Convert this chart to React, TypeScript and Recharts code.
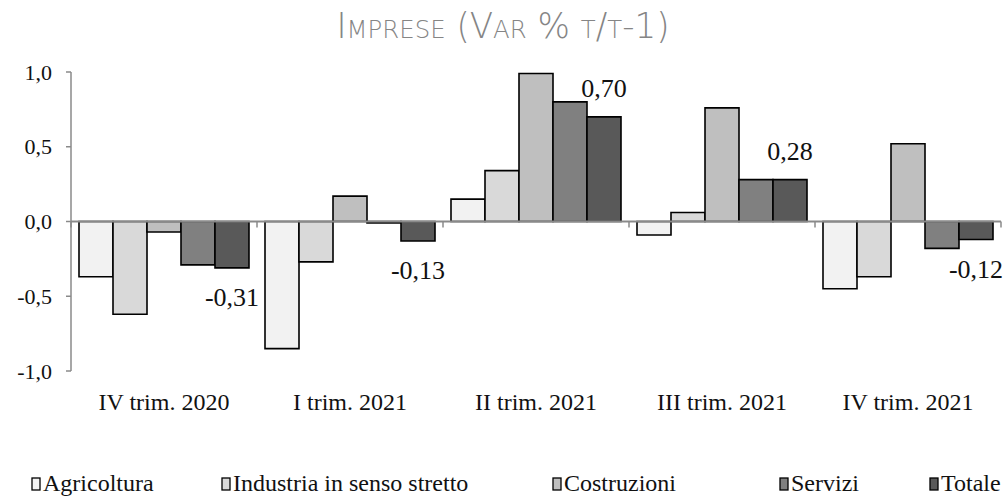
import React from "react";
import {
  BarChart,
  Bar,
  XAxis,
  YAxis,
  ReferenceLine,
  LabelList,
} from "recharts";

const categories = [
  "IV trim. 2020",
  "I trim. 2021",
  "II trim. 2021",
  "III trim. 2021",
  "IV trim. 2021",
];
const agricoltura = [-0.37, -0.85, 0.15, -0.09, -0.45];
const industria = [-0.62, -0.27, 0.34, 0.06, -0.37];
const costruzioni = [-0.07, 0.17, 0.99, 0.76, 0.52];
const servizi = [-0.29, -0.01, 0.8, 0.28, -0.18];
const totale = [-0.31, -0.13, 0.7, 0.28, -0.12];
const yTicks = [-1, -0.5, 0, 0.5, 1];

const series = [
  { key: "agricoltura", name: "Agricoltura", color: "#f2f2f2" },
  { key: "industria", name: "Industria in senso stretto", color: "#d9d9d9" },
  { key: "costruzioni", name: "Costruzioni", color: "#bfbfbf" },
  { key: "servizi", name: "Servizi", color: "#808080" },
  { key: "totale", name: "Totale", color: "#595959" },
];

const data = categories.map((cat, i) => ({
  cat,
  agricoltura: agricoltura[i],
  industria: industria[i],
  costruzioni: costruzioni[i],
  servizi: servizi[i],
  totale: totale[i],
}));

const W = 1004;
const H = 496;
const top = 72;
const left = 71;
const right = 3;
const plotBottom = 371;
const axisGray = "#8a8a8a";
const serif = "'Liberation Serif', 'Times New Roman', serif";
const fmt = (v: number, d: number) => v.toFixed(d).replace(".", ",");

const band = (W - left - right) / categories.length;
const zeroY = top + (plotBottom - top) * (1 / 2);

const CatTick = (props: any) => {
  const { x, y, payload, index } = props;
  const last = index === categories.length - 1;
  return (
    <g>
      <line x1={x - band / 2} x2={x - band / 2} y1={zeroY} y2={zeroY + 6} stroke={axisGray} strokeWidth={1.5} />
      {last && (
        <line x1={x + band / 2} x2={x + band / 2} y1={zeroY} y2={zeroY + 6} stroke={axisGray} strokeWidth={1.5} />
      )}
      <text x={x} y={y + 39} textAnchor="middle" fontFamily={serif} fontSize={24} fill="#111">
        {payload.value}
      </text>
    </g>
  );
};

const ValTick = (props: any) => {
  const { x, y, payload } = props;
  return (
    <text x={x} y={y} dy="0.35em" textAnchor="end" fontFamily={serif} fontSize={22} fill="#111">
      {fmt(payload.value, 1)}
    </text>
  );
};

const TotLabel = (props: any) => {
  const { x, y, width, height, value } = props;
  const a = y;
  const b = y + height;
  const cx = x + width / 2;
  const ty = value >= 0 ? Math.min(a, b) - 29 : Math.max(a, b) + 29;
  return (
    <text x={cx} y={ty} dy="0.35em" textAnchor="middle" fontFamily={serif} fontSize={26} fill="#111">
      {fmt(value, 2)}
    </text>
  );
};

const legendX = [32, 222, 553, 780, 930];

const App = () => {
  return (
    <div style={{ position: "absolute", left: 0, top: 0, width: W, height: H, background: "#fff" }}>
      <BarChart
        width={W}
        height={H}
        data={data}
        margin={{ top, right, bottom: H - plotBottom - 30, left: 0 }}
        barCategoryGap={8}
        barGap={0}
      >
        <XAxis
          dataKey="cat"
          axisLine={false}
          tickLine={false}
          tickSize={0}
          tickMargin={0}
          height={30}
          interval={0}
          tick={<CatTick />}
        />
        <YAxis
          width={left}
          domain={[-1, 1]}
          ticks={yTicks}
          interval={0}
          axisLine={{ stroke: axisGray, strokeWidth: 1.5 }}
          tickLine={{ stroke: axisGray, strokeWidth: 1.5 }}
          tickSize={5}
          tickMargin={14}
          tick={<ValTick />}
        />
        {series.map((s) => (
          <Bar
            key={s.key}
            dataKey={s.key}
            name={s.name}
            fill={s.color}
            stroke="#000"
            strokeWidth={1.6}
            isAnimationActive={false}
          >
            {s.key === "totale" && <LabelList dataKey="totale" content={<TotLabel />} />}
          </Bar>
        ))}
        <ReferenceLine y={0} stroke={axisGray} strokeWidth={2} />
      </BarChart>
      <svg width={W} height={H} style={{ position: "absolute", left: 0, top: 0, pointerEvents: "none" }}>
        <text
          x={503}
          y={38}
          textAnchor="middle"
          fontFamily="'DejaVu Sans', 'Liberation Sans', sans-serif"
          fontWeight={200}
          fontSize={35}
          style={{ fontVariant: "small-caps" }}
          fill="#858585"
          textLength={333}
          lengthAdjust="spacingAndGlyphs"
        >
          Imprese (Var % t/t-1)
        </text>
        {series.map((s, i) => (
          <g key={s.key}>
            <rect x={legendX[i]} y={478} width={8} height={12} fill={s.color} stroke="#000" strokeWidth={1.3} />
            <text x={legendX[i] + 11} y={491} fontFamily={serif} fontSize={24} fill="#111">
              {s.name}
            </text>
          </g>
        ))}
      </svg>
    </div>
  );
};

export default App;
